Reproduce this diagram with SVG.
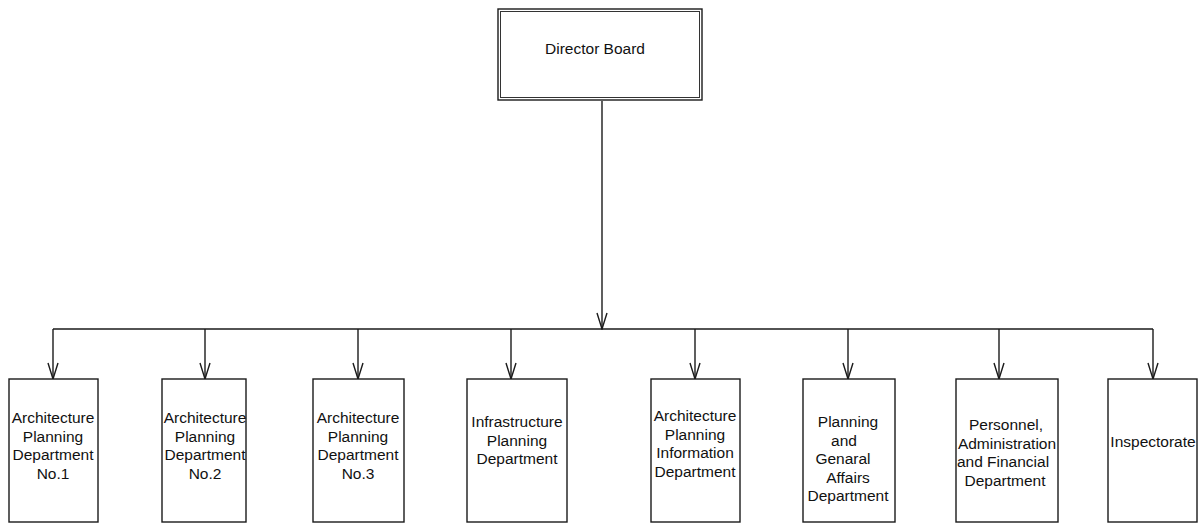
<svg xmlns="http://www.w3.org/2000/svg" width="1199" height="524" viewBox="0 0 1199 524">
<defs>
<style>
.box{fill:#fff;stroke:#1a1a1a;stroke-width:1.4}
.txt{font-family:"Liberation Sans",Arial,sans-serif;font-size:15.5px;fill:#111;text-anchor:middle}
.ln{fill:none;stroke:#1a1a1a;stroke-width:1.4}
</style>
<marker id="v" viewBox="0 0 18 12" refX="17" refY="6" markerWidth="18" markerHeight="12" markerUnits="userSpaceOnUse" orient="auto">
<path d="M1,1 L17,6 L1,11" fill="none" stroke="#1a1a1a" stroke-width="1.4"/>
</marker>
</defs>
<rect width="1199" height="524" fill="#fff"/>
<g id="connectors">
<line class="ln" x1="602" y1="101" x2="602" y2="329" marker-end="url(#v)"/>
<line class="ln" x1="53" y1="329" x2="1153" y2="329"/>
<line class="ln" x1="53" y1="329" x2="53" y2="379" marker-end="url(#v)"/>
<line class="ln" x1="205" y1="329" x2="205" y2="379" marker-end="url(#v)"/>
<line class="ln" x1="358" y1="329" x2="358" y2="379" marker-end="url(#v)"/>
<line class="ln" x1="511" y1="329" x2="511" y2="379" marker-end="url(#v)"/>
<line class="ln" x1="695" y1="329" x2="695" y2="379" marker-end="url(#v)"/>
<line class="ln" x1="848" y1="329" x2="848" y2="379" marker-end="url(#v)"/>
<line class="ln" x1="999" y1="329" x2="999" y2="379" marker-end="url(#v)"/>
<line class="ln" x1="1153" y1="329" x2="1153" y2="379" marker-end="url(#v)"/>
</g>
<g id="director">
<rect class="box" x="498" y="9" width="204" height="91"/>
<rect x="500.5" y="11.5" width="199" height="86" fill="none" stroke="#333" stroke-width="1"/>
<text class="txt" x="595" y="54">Director Board</text>
</g>
<g id="dept1">
<rect class="box" x="9" y="379" width="89" height="143"/>
<text class="txt"><tspan x="53" y="423">Architecture</tspan><tspan x="53" y="441.5">Planning</tspan><tspan x="53" y="460">Department</tspan><tspan x="53" y="478.5">No.1</tspan></text>
</g>
<g id="dept2">
<rect class="box" x="162" y="379" width="84" height="143"/>
<text class="txt"><tspan x="205" y="423">Architecture</tspan><tspan x="205" y="441.5">Planning</tspan><tspan x="205" y="460">Department</tspan><tspan x="205" y="478.5">No.2</tspan></text>
</g>
<g id="dept3">
<rect class="box" x="313" y="379" width="91" height="143"/>
<text class="txt"><tspan x="358" y="423">Architecture</tspan><tspan x="358" y="441.5">Planning</tspan><tspan x="358" y="460">Department</tspan><tspan x="358" y="478.5">No.3</tspan></text>
</g>
<g id="dept4">
<rect class="box" x="467" y="379" width="100" height="143"/>
<text class="txt"><tspan x="517" y="427">Infrastructure</tspan><tspan x="517" y="445.5">Planning</tspan><tspan x="517" y="464">Department</tspan></text>
</g>
<g id="dept5">
<rect class="box" x="651" y="379" width="89" height="143"/>
<text class="txt"><tspan x="695" y="421">Architecture</tspan><tspan x="695" y="439.5">Planning</tspan><tspan x="695" y="458">Information</tspan><tspan x="695" y="476.5">Department</tspan></text>
</g>
<g id="dept6">
<rect class="box" x="803" y="379" width="92" height="143"/>
<text class="txt"><tspan x="848" y="427">Planning</tspan><tspan x="844" y="445.5">and</tspan><tspan x="843" y="464">Genaral</tspan><tspan x="848" y="482.5">Affairs</tspan><tspan x="848" y="501">Department</tspan></text>
</g>
<g id="dept7">
<rect class="box" x="956" y="379" width="102" height="143"/>
<text class="txt"><tspan x="1006" y="430">Personnel,</tspan><tspan x="1007" y="448.5">Administration</tspan><tspan x="1003" y="467">and Financial</tspan><tspan x="1005" y="485.5">Department</tspan></text>
</g>
<g id="dept8">
<rect class="box" x="1108" y="379" width="89" height="143"/>
<text class="txt" x="1153" y="447">Inspectorate</text>
</g>
</svg>
